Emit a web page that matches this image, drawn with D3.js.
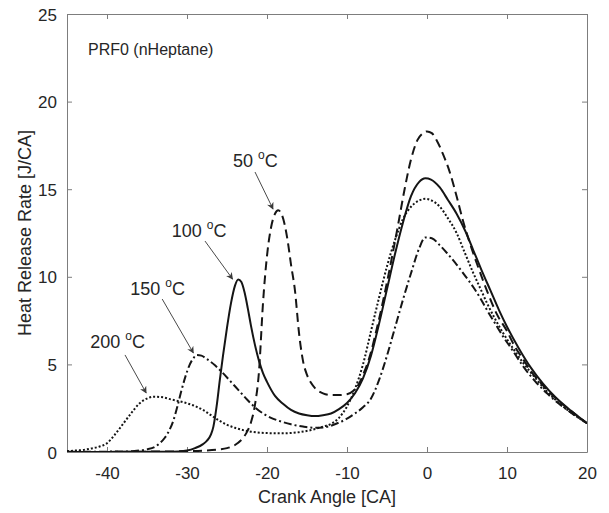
<!DOCTYPE html>
<html>
<head>
<meta charset="utf-8">
<script src="https://cdn.jsdelivr.net/npm/d3@7"></script>
<style>
  html, body { margin: 0; padding: 0; background: #fff; }
  svg { display: block; font-family: "Liberation Sans", Arial, Helvetica, sans-serif; }
</style>
</head>
<body>
<svg id="chart" width="609" height="513"></svg>
<script>
// ---------------- DATA ----------------
const xTicks = [-40, -30, -20, -10, 0, 10, 20];
const yTicks = [0, 5, 10, 15, 20, 25];

// 50 °C (dashed)
const crank50 = [-45, -35, -30, -28, -26, -25, -24, -23, -22.5, -22, -21.5, -21, -20.5, -20, -19.5, -19, -18.6, -18.2, -17.8, -17.4, -17, -16.5, -16, -15.5, -15, -14.5, -14, -13, -12, -11, -10, -9.2, -8.5, -8, -7, -6.3, -5.5, -5, -4.3, -3.6, -2.8, -2, -1.2, -0.5, 0, 0.6, 1.2, 2, 2.9, 3.7, 4.5, 5.3, 6.2, 7.5, 8.7, 10, 11, 12, 13, 14, 15, 16.5, 18, 20];
const hrr50   = [0, 0.02, 0.05, 0.08, 0.15, 0.22, 0.4, 0.8, 1.15, 1.7, 2.7, 4.6, 8.5, 11.2, 12.8, 13.6, 13.8, 13.6, 13.0, 12.0, 10.7, 9.2, 6.8, 5.2, 4.4, 3.95, 3.65, 3.35, 3.25, 3.25, 3.3, 3.5, 3.9, 4.4, 5.7, 7.0, 8.6, 9.7, 11.3, 13.0, 15.0, 16.7, 17.8, 18.2, 18.3, 18.2, 17.8, 17.0, 15.9, 14.6, 13.2, 12.0, 10.8, 9.2, 7.9, 6.9, 6.0, 5.3, 4.6, 4.05, 3.55, 2.9, 2.35, 1.64];

// 100 °C (solid)
const crank100 = [-45, -35, -32, -31, -30, -29, -28, -27.5, -27, -26.7, -26.3, -25.9, -25.5, -25, -24.5, -24, -23.6, -23.2, -22.8, -22.4, -22, -21.5, -21, -20.5, -20, -19, -18, -17, -16, -15, -14, -13, -12, -11, -10, -9, -8, -7, -6, -5, -4, -3, -2, -1, -0.2, 0.5, 1.6, 2.6, 3.7, 4.8, 5.8, 6.8, 7.9, 9, 10, 11.5, 13, 14.5, 16, 18, 20];
const hrr100   = [0, 0.01, 0.02, 0.03, 0.08, 0.22, 0.45, 0.65, 1.0, 1.45, 2.6, 4.1, 5.5, 7.1, 8.5, 9.5, 9.85, 9.7, 9.1, 8.2, 7.2, 6.1, 5.2, 4.5, 4.0, 3.2, 2.75, 2.4, 2.2, 2.1, 2.05, 2.1, 2.2, 2.45, 2.8, 3.35, 4.2, 5.5, 7.3, 9.3, 11.3, 13.1, 14.6, 15.4, 15.62, 15.55, 15.1, 14.4, 13.6, 12.6, 11.5, 10.4, 9.25, 8.1, 7.15, 5.9, 4.8, 3.9, 3.15, 2.35, 1.64];

// 150 °C (dash-dot)
const crank150 = [-45, -40, -37, -36, -35, -34, -33.4, -32.8, -32.2, -31.7, -31.2, -30.7, -30.2, -29.7, -29.2, -28.8, -28.2, -27.5, -26.5, -25.5, -24.5, -23.5, -22.5, -21.5, -20.5, -19.5, -18.5, -17, -15.5, -14, -13, -12, -11, -10, -9, -8, -7, -6, -5, -4, -3, -2, -1, -0.2, 0.6, 1.6, 2.6, 3.7, 4.7, 5.8, 6.7, 7.5, 8.5, 9.5, 10.7, 12, 13.5, 15, 16.5, 18, 20];
const hrr150   = [0.01, 0.02, 0.04, 0.08, 0.15, 0.3, 0.5, 0.8, 1.25, 1.8, 2.6, 3.5, 4.3, 4.95, 5.35, 5.54, 5.5, 5.3, 4.95, 4.5, 4.0, 3.5, 3.0, 2.55, 2.2, 1.95, 1.78, 1.58, 1.45, 1.38, 1.4, 1.5, 1.68, 1.9, 2.2, 2.55, 3.05, 4.1, 5.5, 7.1, 8.7, 10.2, 11.6, 12.25, 12.2, 11.8, 11.3, 10.7, 10.1, 9.4, 8.75, 8.1, 7.35, 6.6, 5.8, 4.9, 4.05, 3.35, 2.75, 2.25, 1.64];

// 200 °C (dotted)
const crank200 = [-45, -44, -43, -42, -41, -40, -39, -38, -37, -36, -35, -34.2, -33, -32, -31, -30, -29, -28, -27, -26, -25, -24, -23, -22, -20, -18, -16, -14.5, -13, -12, -11, -10, -9, -8, -7, -6, -5, -4, -3, -2, -1, -0.2, 0.6, 1.6, 2.6, 3.7, 4.7, 5.8, 6.7, 7.5, 8.5, 9.5, 10.7, 12, 13.5, 15, 16.5, 18, 20];
const hrr200   = [0.05, 0.08, 0.12, 0.2, 0.3, 0.5, 1.0, 1.6, 2.2, 2.75, 3.05, 3.16, 3.12, 3.0, 2.9, 2.78, 2.62, 2.4, 2.1, 1.8, 1.55, 1.38, 1.25, 1.16, 1.08, 1.07, 1.13, 1.25, 1.45, 1.6, 1.95, 2.6, 3.6, 5.0, 6.9, 8.8, 10.6, 12.1, 13.3, 14.0, 14.35, 14.45, 14.35, 14.0, 13.35, 12.5, 11.4, 10.2, 9.3, 8.5, 7.6, 6.8, 5.95, 5.1, 4.25, 3.45, 2.8, 2.25, 1.64];

const seriesNames = ["50", "100", "150", "200"];

// annotation anchors in data units: label start, arrow tail, arrow head
const annotLabelX = [-24.25, -31.9, -37.1, -42.1];
const annotLabelY = [16.27, 12.27, 8.96, 5.94];
const arrowFromX  = [-21.5, -27.75, -33.1, -37.75];
const arrowFromY  = [15.98, 12.04, 8.73, 5.54];
const arrowToX    = [-19.25, -24.3, -29.2, -35.1];
const arrowToY    = [13.87, 9.87, 5.65, 3.37];

// ---------------- LAYOUT ----------------
const W = 609, H = 513;
const margin = {left: 67, top: 14, right: 22, bottom: 61};
const iw = W - margin.left - margin.right;   // 520
const ih = H - margin.top - margin.bottom;   // 438

const svg = d3.select("#chart");
const g = svg.append("g").attr("transform", `translate(${margin.left},${margin.top})`);

const x = d3.scaleLinear().domain([-45, 20]).range([0, iw]);
const y = d3.scaleLinear().domain([0, 25]).range([ih, 0]);

const textColor = "#262626";
const axisColor = "#7d7d7d";
const fmt = d => String(d);  // hyphen-minus like the original

// defs
const defs = svg.append("defs");
defs.append("clipPath").attr("id", "clip").append("rect")
  .attr("width", iw).attr("height", ih);
defs.append("marker").attr("id", "arrowhead")
  .attr("viewBox", "0 0 10 10").attr("refX", 9).attr("refY", 5)
  .attr("markerWidth", 8).attr("markerHeight", 7)
  .attr("markerUnits", "userSpaceOnUse")
  .attr("orient", "auto")
  .append("path").attr("d", "M0,0 L10,5 L0,10 L3,5 Z").attr("fill", "#3a3a3a");

// axes (ticks inward, box)
const tickLen = 5;
const axB = g.append("g").attr("transform", `translate(0,${ih})`)
  .call(d3.axisBottom(x).tickValues(xTicks).tickFormat(fmt).tickSizeInner(-tickLen).tickSizeOuter(0).tickPadding(15));
const axT = g.append("g")
  .call(d3.axisTop(x).tickValues(xTicks).tickFormat("").tickSizeInner(-tickLen).tickSizeOuter(0));
const axL = g.append("g")
  .call(d3.axisLeft(y).tickValues(yTicks).tickFormat(fmt).tickSizeInner(-tickLen).tickSizeOuter(0).tickPadding(10));
const axR = g.append("g").attr("transform", `translate(${iw},0)`)
  .call(d3.axisRight(y).tickValues(yTicks).tickFormat("").tickSizeInner(-tickLen).tickSizeOuter(0));

[axB, axT, axL, axR].forEach(a => {
  a.select(".domain").attr("stroke", axisColor).attr("stroke-width", 1);
  a.selectAll(".tick line").attr("stroke", axisColor).attr("stroke-width", 1);
  a.selectAll(".tick text").attr("fill", textColor).attr("font-size", 17)
    .attr("font-family", '"Liberation Sans", Arial, Helvetica, sans-serif');
});
axB.selectAll(".tick text").attr("dy", "0.71em");
axL.selectAll(".tick text").attr("dy", "0.36em");

// curves
const seriesX = [crank50, crank100, crank150, crank200];
const seriesY = [hrr50, hrr100, hrr150, hrr200];
const dashes = ["9,5", null, "8,3,2,3", "2,2"];

const line = d3.line()
  .x(d => x(d[0])).y(d => y(d[1]))
  .curve(d3.curveMonotoneX);

const plot = g.append("g").attr("clip-path", "url(#clip)");
seriesNames.forEach((name, i) => {
  const pts = seriesX[i].map((cx, k) => [cx, seriesY[i][k]]);
  plot.append("path")
    .datum(pts)
    .attr("d", line)
    .attr("fill", "none")
    .attr("stroke", "#151515")
    .attr("stroke-width", 2)
    .attr("stroke-linejoin", "round")
    .attr("stroke-dasharray", dashes[i]);
});

// annotations
seriesNames.forEach((name, i) => {
  g.append("line")
    .attr("x1", x(arrowFromX[i])).attr("y1", y(arrowFromY[i]))
    .attr("x2", x(arrowToX[i])).attr("y2", y(arrowToY[i]))
    .attr("stroke", "#4a4a4a").attr("stroke-width", 1)
    .attr("marker-end", "url(#arrowhead)");
  const t = g.append("text")
    .attr("x", x(annotLabelX[i])).attr("y", y(annotLabelY[i]))
    .attr("fill", textColor).attr("font-size", 18);
  t.append("tspan").text(name + " ");
  t.append("tspan").attr("font-size", 12).attr("dy", -8).text("o");
  t.append("tspan").attr("dy", 8).text("C");
});

// in-plot title
g.append("text")
  .attr("x", 21).attr("y", 41)
  .attr("fill", textColor).attr("font-size", 16)
  .text("PRF0 (nHeptane)");

// axis titles
svg.append("text")
  .attr("x", margin.left + iw / 2).attr("y", 503)
  .attr("text-anchor", "middle")
  .attr("fill", textColor).attr("font-size", 18)
  .text("Crank Angle [CA]");

svg.append("text")
  .attr("transform", `translate(31,${margin.top + ih / 2}) rotate(-90)`)
  .attr("text-anchor", "middle")
  .attr("fill", textColor).attr("font-size", 18)
  .text("Heat Release Rate [J/CA]");
</script>
</body>
</html>
